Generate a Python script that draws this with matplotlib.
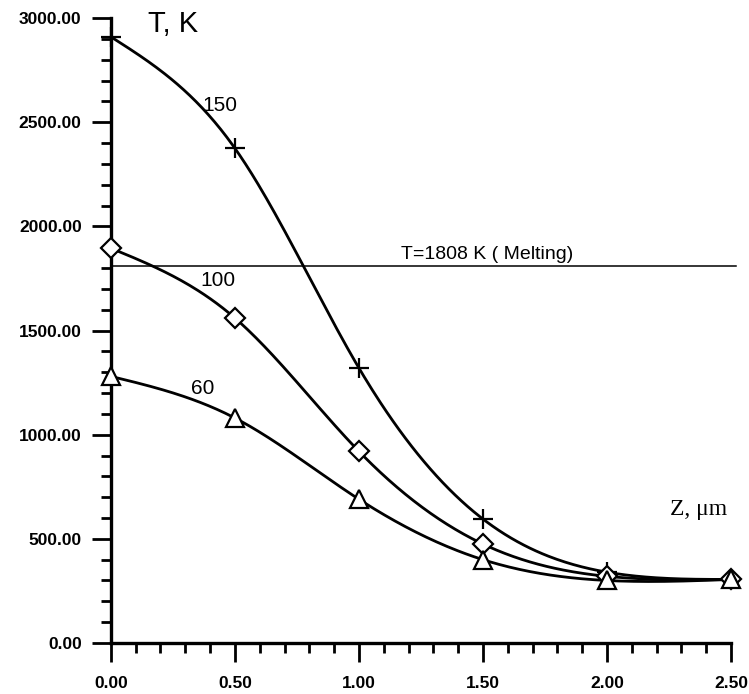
import matplotlib
matplotlib.use("Agg")
import matplotlib.pyplot as plt
import numpy as np
from matplotlib.ticker import MultipleLocator, FormatStrFormatter

# depth (um) and temperature (K) for three pulse energies
z = [0.0, 0.5, 1.0, 1.5, 2.0, 2.5]
t_150 = [2910, 2375, 1320, 595, 340, 305]
t_100 = [1895, 1560, 920, 475, 320, 305]
t_60 = [1280, 1080, 690, 400, 300, 305]
t_melt = 1808

plt.rcParams['font.family'] = ['Liberation Sans', 'DejaVu Sans']


def smooth(x, y, n=300):
    # natural cubic spline through the points
    x = np.asarray(x, float)
    y = np.asarray(y, float)
    h = np.diff(x)
    k = len(x)
    A = np.zeros((k, k))
    b = np.zeros(k)
    A[0, 0] = A[-1, -1] = 1
    for i in range(1, k - 1):
        A[i, i - 1] = h[i - 1]
        A[i, i] = 2 * (h[i - 1] + h[i])
        A[i, i + 1] = h[i]
        b[i] = 6 * ((y[i + 1] - y[i]) / h[i] - (y[i] - y[i - 1]) / h[i - 1])
    M = np.linalg.solve(A, b)
    xs = np.linspace(x[0], x[-1], n)
    j = np.clip(np.searchsorted(x, xs) - 1, 0, k - 2)
    hj = h[j]
    a = x[j + 1] - xs
    d = xs - x[j]
    ys = (M[j] * a**3 + M[j + 1] * d**3) / (6 * hj) \
        + (y[j] / hj - M[j] * hj / 6) * a + (y[j + 1] / hj - M[j + 1] * hj / 6) * d
    return xs, ys


fig = plt.figure(figsize=(7.49, 6.94), dpi=100)
ax = fig.add_axes([0.148, 0.0735, 0.828, 0.9005])

for t, m, ms in [(t_150, '+', 15), (t_100, 'D', 10.5), (t_60, '^', 13)]:
    xs, ys = smooth(z, t)
    ax.plot(xs, ys, color='black', lw=2.0, zorder=2)
    ax.plot(z, t, ls='none', marker=m, ms=ms, mfc='white', mec='black',
            mew=1.6, zorder=3, clip_on=False)

ax.plot([0, 2.52], [t_melt, t_melt], color='black', lw=1.1, zorder=1, clip_on=False)

ax.set_xlim(0, 2.5)
ax.set_ylim(0, 3000)

ax.spines['top'].set_visible(False)
ax.spines['right'].set_visible(False)
ax.spines['left'].set_linewidth(2.4)
ax.spines['bottom'].set_linewidth(2.4)

ax.xaxis.set_major_locator(MultipleLocator(0.5))
ax.xaxis.set_minor_locator(MultipleLocator(0.1))
ax.yaxis.set_major_locator(MultipleLocator(500))
ax.yaxis.set_minor_locator(MultipleLocator(100))
ax.xaxis.set_major_formatter(FormatStrFormatter('%.2f'))
ax.yaxis.set_major_formatter(FormatStrFormatter('%.2f'))

ax.tick_params(which='major', length=14, width=2.0, direction='out')
ax.tick_params(which='minor', length=7, width=2.0, direction='out')
ax.tick_params(axis='x', which='major', pad=10)
ax.tick_params(axis='y', which='major', pad=7)
for lab in ax.get_xticklabels() + ax.get_yticklabels():
    lab.set_fontweight('bold')
    lab.set_fontsize(12.5)

ax.text(0.15, 2935, 'T, K', fontsize=21, ha='left', va='baseline')
ax.text(2.37, 640, 'Z, μm', fontsize=17, ha='center', va='center',
        family=['Liberation Serif', 'DejaVu Serif'])
ax.text(0.44, 2578, '150', fontsize=15, ha='center', va='center')
ax.text(0.43, 1738, '100', fontsize=15, ha='center', va='center')
ax.text(0.37, 1224, '60', fontsize=15, ha='center', va='center')
ax.text(1.516, 1842, 'T=1808 K ( Melting)', fontsize=14, ha='center', va='baseline')

fig.savefig('out.png', dpi=100)
